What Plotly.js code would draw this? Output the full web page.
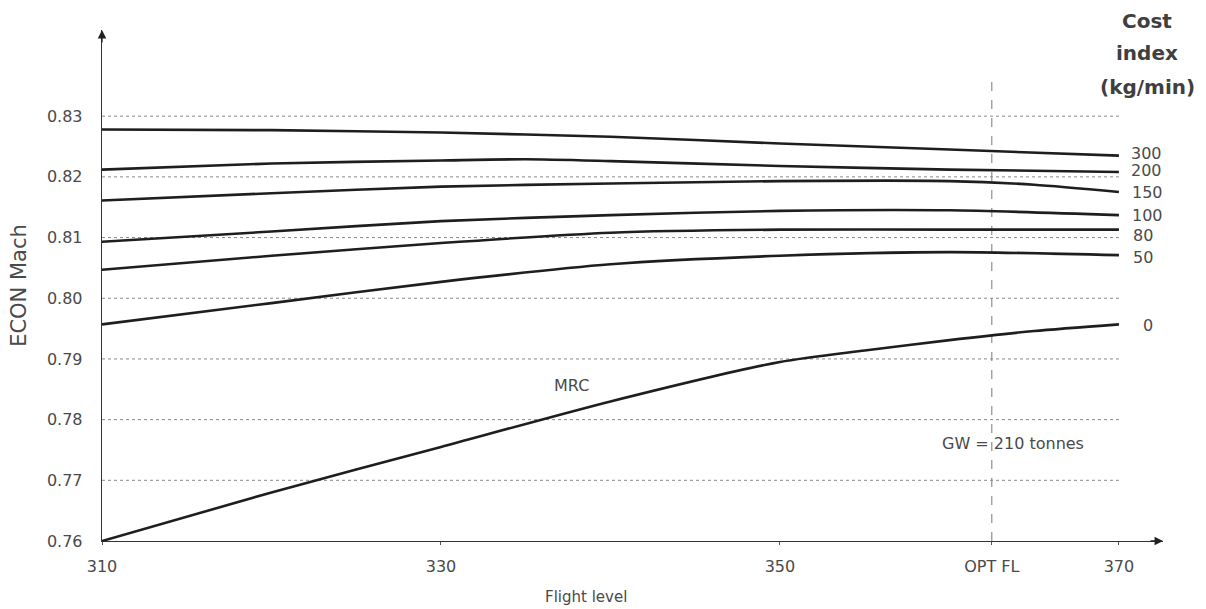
<!DOCTYPE html>
<html>
<head>
<meta charset="utf-8">
<script src="https://cdn.plot.ly/plotly-3.0.1.min.js"></script>
<style>html,body{margin:0;padding:0;background:#fff;}#chart{width:1206px;height:609px;}</style>
</head>
<body>
<div id="chart"></div>
<script>
// Flight levels sampled along each curve
const flightLevels = [310, 320, 330, 340, 350, 360, 370];
const flightLevelsMRC = [310, 320, 330, 340, 350, 355, 360, 365, 370];
const flightLevels150 = [310, 320, 330, 340, 350, 360, 365, 370];
const flightLevels200 = [310, 320, 330, 335, 340, 350, 360, 370];

// ECON Mach per cost index (kg/min)
const ci300 = [0.8278, 0.8277, 0.8273, 0.8266, 0.8255, 0.8245, 0.8235];
const ci200 = [0.8212, 0.8222, 0.8227, 0.8229, 0.8226, 0.8218, 0.8212, 0.8208];
const ci150 = [0.8161, 0.8173, 0.8184, 0.8189, 0.8193, 0.8193, 0.8187, 0.8175];
const ci100 = [0.8093, 0.8110, 0.8127, 0.8137, 0.8144, 0.8145, 0.8137];
const ci80  = [0.8047, 0.8070, 0.8091, 0.8108, 0.8113, 0.8113, 0.8113];
const ci50  = [0.7957, 0.7992, 0.8027, 0.8056, 0.8070, 0.8076, 0.8071];
const ci0   = [0.7600, 0.7680, 0.7755, 0.7830, 0.7895, 0.7914, 0.7931, 0.7946, 0.7957];

const ciLabels = ['300', '200', '150', '100', '80', '50', '0'];
const xTickVals = [310, 330, 350, 362.5, 370];
const xTickText = ['310', '330', '350', 'OPT FL', '370'];
const yTickVals = [0.76, 0.77, 0.78, 0.79, 0.80, 0.81, 0.82, 0.83];
const yTickText = ['0.76', '0.77', '0.78', '0.79', '0.80', '0.81', '0.82', '0.83'];
const optFL = 362.5;

const series = [
  {x: flightLevels, y: ci300},
  {x: flightLevels200, y: ci200},
  {x: flightLevels150, y: ci150},
  {x: flightLevels, y: ci100},
  {x: flightLevels, y: ci80},
  {x: flightLevels, y: ci50},
  {x: flightLevelsMRC, y: ci0}
];
// label nudges (px)
const labelDY = [2, 2, 0, 0, -6, -2, -1];
const labelDX = [10, 10, 11, 11, 12, 12, 22];

const font = 'DejaVu Sans, Verdana, sans-serif';
const txt = '#4a4a4a';
const traces = series.map(s => ({
  x: s.x, y: s.y, type: 'scatter', mode: 'lines',
  line: {color: '#1e1e1e', width: 2.6, shape: 'spline', smoothing: 0.7},
  showlegend: false, hoverinfo: 'skip'
}));

const shapes = [];
yTickVals.slice(1).forEach(v => shapes.push({
  type: 'line', xref: 'x', yref: 'y', x0: 310, x1: 370, y0: v, y1: v,
  line: {color: '#8a8a8a', width: 1, dash: 'dot'}, layer: 'below'
}));
shapes.push({
  type: 'line', xref: 'x', yref: 'paper', x0: optFL, x1: optFL, y0: 0, y1: 0.915,
  line: {color: '#7a7a7a', width: 1, dash: 'dash'}, layer: 'below'
});

const L = 102, W = 1061, B = 541, H = 511;
const px2x = p => (p - L) / W;
const px2y = p => (B - p) / H;

const annotations = [];
series.forEach((s, i) => annotations.push({
  x: s.x[s.x.length - 1], y: s.y[s.y.length - 1], xref: 'x', yref: 'y',
  text: ciLabels[i], showarrow: false, xanchor: 'left', yanchor: 'middle',
  xshift: labelDX[i], yshift: labelDY[i],
  font: {family: font, size: 16, color: txt}
}));
[['Cost', 21], ['index', 53], ['(kg/min)', 87]].forEach(([t, py]) => annotations.push({
  x: px2x(1147), y: px2y(py), xref: 'paper', yref: 'paper', text: '<b>' + t + '</b>',
  showarrow: false, xanchor: 'center', yanchor: 'middle',
  font: {family: font, size: 20, color: '#3f3f3f'}
}));
annotations.push({
  x: 337.7, y: 0.7857, xref: 'x', yref: 'y', text: 'MRC', showarrow: false,
  xanchor: 'center', yanchor: 'middle',
  font: {family: font, size: 16, color: txt}
});
annotations.push({
  x: 363.75, y: 0.7761, xref: 'x', yref: 'y', text: 'GW = 210 tonnes', showarrow: false,
  xanchor: 'center', yanchor: 'middle',
  font: {family: font, size: 16, color: txt}
});
annotations.push({
  x: px2x(586), y: px2y(597), xref: 'paper', yref: 'paper', text: 'Flight level', showarrow: false,
  xanchor: 'center', yanchor: 'middle',
  font: {family: font, size: 15, color: txt}
});
// axis arrowheads
annotations.push({
  x: 372.6, y: 0.76, xref: 'x', yref: 'y', ax: -14, ay: 0, text: '', showarrow: true,
  arrowhead: 2, arrowsize: 1.3, arrowwidth: 1.3, arrowcolor: '#222'
});
annotations.push({
  x: 310, y: 0.8442, xref: 'x', yref: 'y', ax: 0, ay: 14, text: '', showarrow: true,
  arrowhead: 2, arrowsize: 1.3, arrowwidth: 1.3, arrowcolor: '#222'
});

const layout = {
  width: 1206, height: 609,
  margin: {l: 102, r: 43, t: 30, b: 68},
  paper_bgcolor: '#fff', plot_bgcolor: '#fff',
  font: {family: font, color: txt},
  xaxis: {
    range: [310, 372.6], showgrid: false, zeroline: false,
    showline: true, linecolor: '#333', linewidth: 1.3,
    tickmode: 'array', tickvals: xTickVals, ticktext: xTickText,
    ticks: 'outside', ticklen: 3, tickcolor: '#555', ticklabelstandoff: 7,
    tickfont: {family: font, size: 16, color: txt}
  },
  yaxis: {
    range: [0.76, 0.8442], showgrid: false, zeroline: false,
    showline: true, linecolor: '#333', linewidth: 1.3,
    tickmode: 'array', tickvals: yTickVals, ticktext: yTickText,
    ticks: '', ticklabelstandoff: 15,
    tickfont: {family: font, size: 16, color: txt},
    title: {text: 'ECON Mach', font: {family: font, size: 21, color: txt}, standoff: 14}
  },
  shapes: shapes,
  annotations: annotations
};

Plotly.newPlot('chart', traces, layout, {displayModeBar: false, staticPlot: true});
</script>
</body>
</html>
